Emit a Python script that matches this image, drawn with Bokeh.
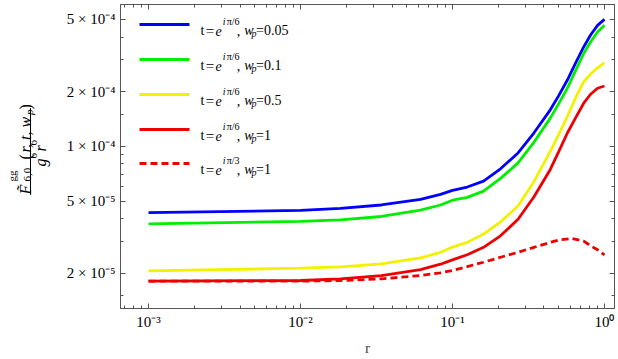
import math
from bokeh.plotting import figure
from bokeh.layouts import row
from bokeh.models import LogAxis, FixedTicker, Label, Arrow, Range1d, CustomJSTickFormatter
from bokeh.embed import file_html
from bokeh.resources import INLINE

# ---- data ----
r = [0.001, 0.01, 0.0183, 0.034, 0.0616, 0.0834, 0.1, 0.125, 0.16, 0.207, 0.27,
     0.343, 0.44, 0.50, 0.57, 0.644, 0.73, 0.81, 0.9, 1.0]
f_pi6_w005 = [4.32e-5, 4.44e-5, 4.56e-5, 4.755e-5, 5.11e-5, 5.44e-5, 5.72e-5, 5.97e-5, 6.43e-5, 7.52e-5, 9.20e-5,
              1.184e-4, 1.589e-4, 1.902e-4, 2.318e-4, 2.861e-4, 3.527e-4, 4.10e-4, 4.637e-4, 5.0e-4]
f_pi6_w01 = [3.74e-5, 3.86e-5, 3.94e-5, 4.11e-5, 4.45e-5, 4.755e-5, 5.05e-5, 5.24e-5, 5.67e-5, 6.66e-5, 8.11e-5,
             1.052e-4, 1.430e-4, 1.719e-4, 2.088e-4, 2.606e-4, 3.245e-4, 3.757e-4, 4.26e-4, 4.637e-4]
f_pi6_w05 = [2.062e-5, 2.134e-5, 2.169e-5, 2.252e-5, 2.43e-5, 2.61e-5, 2.79e-5, 2.96e-5, 3.29e-5, 3.84e-5, 4.69e-5,
             6.39e-5, 9.39e-5, 1.164e-4, 1.460e-4, 1.841e-4, 2.269e-4, 2.50e-4, 2.707e-4, 2.883e-4]
f_pi6_w1 = [1.811e-5, 1.825e-5, 1.864e-5, 1.944e-5, 2.097e-5, 2.244e-5, 2.369e-5, 2.532e-5, 2.78e-5, 3.218e-5, 3.97e-5,
            5.26e-5, 7.46e-5, 9.36e-5, 1.184e-4, 1.430e-4, 1.728e-4, 1.936e-4, 2.088e-4, 2.149e-4]
r_pi3 = [0.001, 0.01, 0.0183, 0.034, 0.0616, 0.0834, 0.1, 0.125, 0.16, 0.207, 0.27,
         0.343, 0.44, 0.50, 0.61, 0.73, 0.81, 0.9, 1.0]
f_pi3_w1 = [1.811e-5, 1.81e-5, 1.825e-5, 1.864e-5, 1.944e-5, 2.011e-5, 2.075e-5, 2.177e-5, 2.301e-5, 2.451e-5, 2.61e-5,
            2.78e-5, 2.96e-5, 3.048e-5, 3.114e-5, 3.01e-5, 2.837e-5, 2.697e-5, 2.523e-5]

x_major = [1e-3, 1e-2, 1e-1, 1.0]
x_labels = ["10\u207b\u00b3", "10\u207b\u00b2", "10\u207b\u00b9", "10\u2070"]
y_major = [2e-5, 5e-5, 1e-4, 2e-4, 5e-4]
y_labels = ["2 \u00d7 10\u207b\u2075", "5 \u00d7 10\u207b\u2075", "1 \u00d7 10\u207b\u2074",
            "2 \u00d7 10\u207b\u2074", "5 \u00d7 10\u207b\u2074"]

series = [
    (r, f_pi6_w005, "#0000ff", None, "\u03c0/6", "=0.05"),
    (r, f_pi6_w01, "#00ee00", None, "\u03c0/6", "=0.1"),
    (r, f_pi6_w05, "#f2f200", None, "\u03c0/6", "=0.5"),
    (r, f_pi6_w1, "#ee0000", None, "\u03c0/6", "=1"),
    (r_pi3, f_pi3_w1, "#ee0000", "7 4", "\u03c0/3", "=1"),
]

FONT = "Liberation Serif"
AX = "#555555"
H = 358
LW = 58          # width of the side panel holding the y label
W = 617
FT, FB = 4, 309  # frame top / bottom in page pixels
FL = 120         # frame left in page pixels

# ---------------- main plot ----------------
p = figure(x_axis_type="log", y_axis_type="log", width=W - LW, height=H,
           x_range=Range1d(6.54e-4, 1.164), y_range=Range1d(1.28e-5, 6.04e-4),
           output_backend="svg", toolbar_location=None,
           min_border_left=FL - LW, min_border_right=3, min_border_top=FT, min_border_bottom=H - FB)
p.grid.visible = False
p.outline_line_color = AX
p.background_fill_color = "white"
p.border_fill_color = "white"

lo, hi = 6.54e-4, 1.164
x_minor = [k * 10.0 ** d for d in range(-4, 1) for k in range(2, 10) if lo <= k * 10.0 ** d <= hi]
y_minor = [1.5e-5, 3e-5, 4e-5, 6e-5, 7e-5, 8e-5, 9e-5, 1.5e-4, 3e-4, 4e-4]
xt = FixedTicker(ticks=x_major, minor_ticks=x_minor)
yt = FixedTicker(ticks=y_major, minor_ticks=y_minor)


def style(ax, ticker):
    ax.ticker = ticker
    ax.axis_line_color = AX
    ax.major_tick_line_color = AX
    ax.minor_tick_line_color = AX
    ax.major_tick_in = 5
    ax.major_tick_out = 0
    ax.minor_tick_in = 3
    ax.minor_tick_out = 0
    ax.major_label_text_font = FONT
    ax.major_label_text_font_size = "15px"
    ax.major_label_text_color = "black"


style(p.xaxis[0], xt)
style(p.yaxis[0], yt)
p.xaxis[0].major_label_overrides = {v: s for v, s in zip(x_major, x_labels)}
p.yaxis[0].major_label_overrides = {v: s for v, s in zip(y_major, y_labels)}
p.xaxis[0].major_label_standoff = 5
p.yaxis[0].major_label_standoff = 5
p.xaxis[0].axis_label = "r"
p.xaxis[0].axis_label_text_font = FONT
p.xaxis[0].axis_label_text_font_size = "15px"
p.xaxis[0].axis_label_text_font_style = "normal"
p.xaxis[0].axis_label_standoff = 7

for loc, ticker in (("above", xt), ("right", yt)):
    ax = LogAxis()
    style(ax, ticker)
    ax.formatter = CustomJSTickFormatter(code="return ''")
    ax.major_label_text_font_size = "0px"
    ax.major_label_standoff = 0
    p.add_layout(ax, loc)

for xs, ys, col, dash, _, _ in series:
    kw = dict(line_color=col, line_width=2.8)
    if dash:
        kw["line_dash"] = dash
    p.line(xs, ys, **kw)


def lab(fig, ox, text, X, Y, size, italic=False, angle=0.0):
    fig.add_layout(Label(x=X - ox, y=FB - Y, x_units="screen", y_units="screen", text=text,
                         text_font=FONT, text_font_size=f"{size}px",
                         text_font_style="italic" if italic else "normal",
                         angle=angle, text_align="left", text_baseline="alphabetic",
                         text_color="black"))


rows = [25, 60, 95, 130, 164]
for Y, (xs, ys, col, dash, ang, wv) in zip(rows, series):
    kw = dict(line_color=col, line_width=3)
    if dash:
        kw["line_dash"] = dash
    p.add_layout(Arrow(end=None, x_start=139 - FL, y_start=FB - Y, x_end=189 - FL, y_end=FB - Y,
                       start_units="screen", end_units="screen", **kw))
    b = Y + 6
    lab(p, FL, "t", 200, b, 14)
    lab(p, FL, "=", 205.3, b, 15)
    lab(p, FL, "e", 215, b, 14, italic=True)
    lab(p, FL, "i", 222.3, b - 9.5, 10, italic=True)
    lab(p, FL, ang, 226.2, b - 9.5, 10)
    lab(p, FL, ",", 236.3, b, 14)
    lab(p, FL, "w", 243.8, b, 14, italic=True)
    lab(p, FL, "p", 251, b + 3, 10, italic=True)
    lab(p, FL, wv, 255.5, b, 14)

# ---------------- side panel with the y label (fraction, rotated) ----------------
# its ranges are page pixels, so the fraction bar can be drawn as a plain line
q = figure(width=LW, height=H, x_range=Range1d(0, LW), y_range=Range1d(FB, FT),
           x_axis_location=None, y_axis_location=None, output_backend="svg",
           toolbar_location=None, min_border_left=0, min_border_right=0,
           min_border_top=FT, min_border_bottom=H - FB)
q.grid.visible = False
q.outline_line_color = None
q.background_fill_color = "white"
q.border_fill_color = "white"

bar_x = [30, 30]
bar_y = [195, 108]
q.line(bar_x, bar_y, line_color="black", line_width=1)

A = math.pi / 2
lab(q, 0, "F\u0303", 25, 195, 16, italic=True, angle=A)
lab(q, 0, "gg", 11, 182, 11, angle=A)
lab(q, 0, "6,0", 27, 182, 11, angle=A)
lab(q, 0, "(", 25, 160, 16, angle=A)
lab(q, 0, "r, t, w", 25, 153, 16, italic=True, angle=A)
lab(q, 0, "p", 28, 115.5, 11, italic=True, angle=A)
lab(q, 0, ")", 25, 110, 16, angle=A)
lab(q, 0, "g", 40, 167, 16, italic=True, angle=A)
lab(q, 0, "6", 33, 159, 11, angle=A)
lab(q, 0, "r", 40, 152, 16, italic=True, angle=A)
lab(q, 0, "6", 33, 146, 11, angle=A)

layout = row(q, p, spacing=0)
open("out.html", "w").write(file_html(layout, INLINE))
